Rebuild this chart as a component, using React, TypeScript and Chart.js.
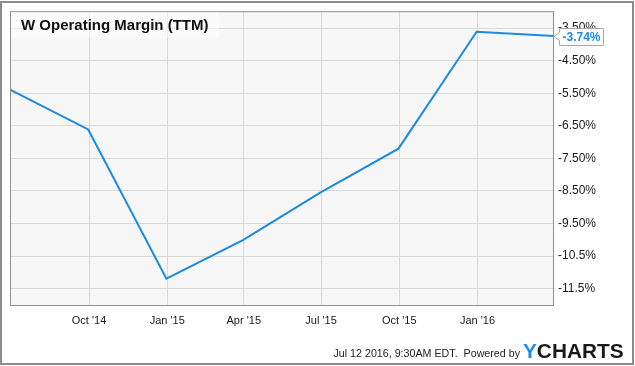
import React, { useEffect, useRef } from "react";
import { Chart, registerables } from "chart.js";

Chart.register(...registerables);

const pointDates = [
  Date.UTC(2014, 5, 30),
  Date.UTC(2014, 8, 30),
  Date.UTC(2014, 11, 31),
  Date.UTC(2015, 2, 31),
  Date.UTC(2015, 5, 30),
  Date.UTC(2015, 8, 30),
  Date.UTC(2015, 11, 31),
  Date.UTC(2016, 2, 31),
];
const marginValues = [-5.39, -6.61, -11.19, -10.01, -8.55, -7.2, -3.61, -3.74];

const xTickDates = [
  Date.UTC(2014, 9, 1),
  Date.UTC(2015, 0, 1),
  Date.UTC(2015, 3, 1),
  Date.UTC(2015, 6, 1),
  Date.UTC(2015, 9, 1),
  Date.UTC(2016, 0, 1),
];
const xTickLabels = ["Oct '14", "Jan '15", "Apr '15", "Jul '15", "Oct '15", "Jan '16"];

const yTickValues = [-3.5, -4.5, -5.5, -6.5, -7.5, -8.5, -9.5, -10.5, -11.5];
const yTickLabels = ["-3.50%", "-4.50%", "-5.50%", "-6.50%", "-7.50%", "-8.50%", "-9.50%", "-10.5%", "-11.5%"];

const titleText = "W Operating Margin (TTM)";
const lastLabel = "-3.74%";
const footerText = "Jul 12 2016, 9:30AM EDT.  Powered by";

const FONT = "'Liberation Sans', Arial, Helvetica, sans-serif";
const LINE_BLUE = "#1b8ae3";

const decorPlugin = {
  id: "decor",
  beforeDraw(chart: any) {
    const { ctx, chartArea: a, width, height } = chart;
    ctx.save();
    ctx.fillStyle = "#ffffff";
    ctx.fillRect(0, 0, width, height);
    ctx.strokeStyle = "#8c8c8c";
    ctx.lineWidth = 2;
    ctx.strokeRect(1, 2, width - 3, height - 4);
    ctx.fillStyle = "#f7f7f7";
    ctx.fillRect(a.left, a.top, a.right - a.left, a.bottom - a.top);
    ctx.restore();
  },
  afterDraw(chart: any) {
    const { ctx, chartArea: a } = chart;
    ctx.save();
    // plot border
    ctx.strokeStyle = "#8f8f8f";
    ctx.lineWidth = 1;
    ctx.strokeRect(a.left + 0.5, a.top + 0.5, a.right - a.left - 1, a.bottom - a.top);
    // title box
    ctx.fillStyle = "rgba(255,255,255,0.5)";
    ctx.fillRect(a.left + 1, a.top + 1, 208, 26);
    ctx.fillStyle = "#111111";
    ctx.font = `bold 15px ${FONT}`;
    ctx.textAlign = "left";
    ctx.textBaseline = "alphabetic";
    ctx.fillText(titleText, 21, 30);
    // last value label
    const yScale = chart.scales.y;
    const yv = Math.round(yScale.getPixelForValue(marginValues[marginValues.length - 1])) + 0.5;
    const tipX = a.right;
    const bx = a.right + 5.5;
    const bw = 44;
    const top = yv - 8;
    const bot = yv + 9;
    ctx.beginPath();
    ctx.moveTo(tipX, yv);
    ctx.lineTo(bx, yv - 4);
    ctx.lineTo(bx, top);
    ctx.lineTo(bx + bw, top);
    ctx.lineTo(bx + bw, bot);
    ctx.lineTo(bx, bot);
    ctx.lineTo(bx, yv + 4);
    ctx.closePath();
    ctx.fillStyle = "#ffffff";
    ctx.fill();
    ctx.strokeStyle = "#a8a8a8";
    ctx.lineWidth = 1;
    ctx.stroke();
    ctx.fillStyle = LINE_BLUE;
    ctx.font = `bold 12px ${FONT}`;
    ctx.textBaseline = "middle";
    ctx.fillText(lastLabel, bx + 3, yv + 1);
    // footer
    ctx.textBaseline = "alphabetic";
    ctx.font = `10.7px ${FONT}`;
    ctx.fillStyle = "#222222";
    ctx.textAlign = "right";
    ctx.fillText(footerText, 520, 357);
    ctx.textAlign = "left";
    ctx.font = `bold 20.8px ${FONT}`;
    ctx.fillStyle = "#1e8fe1";
    ctx.fillText("Y", 523, 358);
    const yw = ctx.measureText("Y").width;
    ctx.fillStyle = "#1a1a1a";
    ctx.fillText("CHARTS", 523 + yw, 358);
    ctx.restore();
  },
};

export default function App() {
  const canvasRef = useRef<HTMLCanvasElement | null>(null);

  useEffect(() => {
    if (!canvasRef.current) return;
    const chart = new Chart(canvasRef.current, {
      type: "line",
      data: {
        datasets: [
          {
            data: pointDates.map((d, i) => ({ x: d, y: marginValues[i] })),
            borderColor: LINE_BLUE,
            borderWidth: 2,
            pointRadius: 0,
            tension: 0,
            fill: false,
          },
        ],
      },
      options: {
        animation: false,
        responsive: false,
        events: [],
        layout: { padding: { left: 10, top: 10, right: 0, bottom: 0 } },
        plugins: { legend: { display: false }, tooltip: { enabled: false }, title: { display: false } },
        scales: {
          x: {
            type: "linear",
            min: Date.UTC(2014, 5, 30),
            max: Date.UTC(2016, 2, 31),
            afterBuildTicks: (scale: any) => {
              scale.ticks = xTickDates.map((v) => ({ value: v }));
            },
            afterFit: (scale: any) => {
              scale.height = 61;
            },
            grid: { color: "#d9d9d9", drawTicks: false, lineWidth: 1 },
            border: { display: false },
            ticks: {
              padding: 9,
              maxRotation: 0,
              autoSkip: false,
              color: "#1a1a1a",
              font: { family: FONT, size: 11 },
              callback: (v: any) => {
                const i = xTickDates.indexOf(Number(v));
                return i >= 0 ? xTickLabels[i] : "";
              },
            },
          },
          y: {
            type: "linear",
            position: "right",
            min: -12,
            max: -2.98,
            afterBuildTicks: (scale: any) => {
              scale.ticks = yTickValues.map((v) => ({ value: v }));
            },
            afterFit: (scale: any) => {
              scale.width = 81;
            },
            grid: { color: "#d9d9d9", drawTicks: false, lineWidth: 1 },
            border: { display: false },
            ticks: {
              padding: 4,
              autoSkip: false,
              color: "#1a1a1a",
              font: { family: FONT, size: 12 },
              callback: (v: any) => {
                const i = yTickValues.indexOf(Number(v));
                return i >= 0 ? yTickLabels[i] : "";
              },
            },
          },
        },
      },
      plugins: [decorPlugin],
    } as any);
    return () => chart.destroy();
  }, []);

  return (
    <div style={{ position: "fixed", left: 0, top: 0, width: 635, height: 366 }}>
      <canvas ref={canvasRef} width={635} height={366} style={{ display: "block", width: 635, height: 366 }} />
    </div>
  );
}
